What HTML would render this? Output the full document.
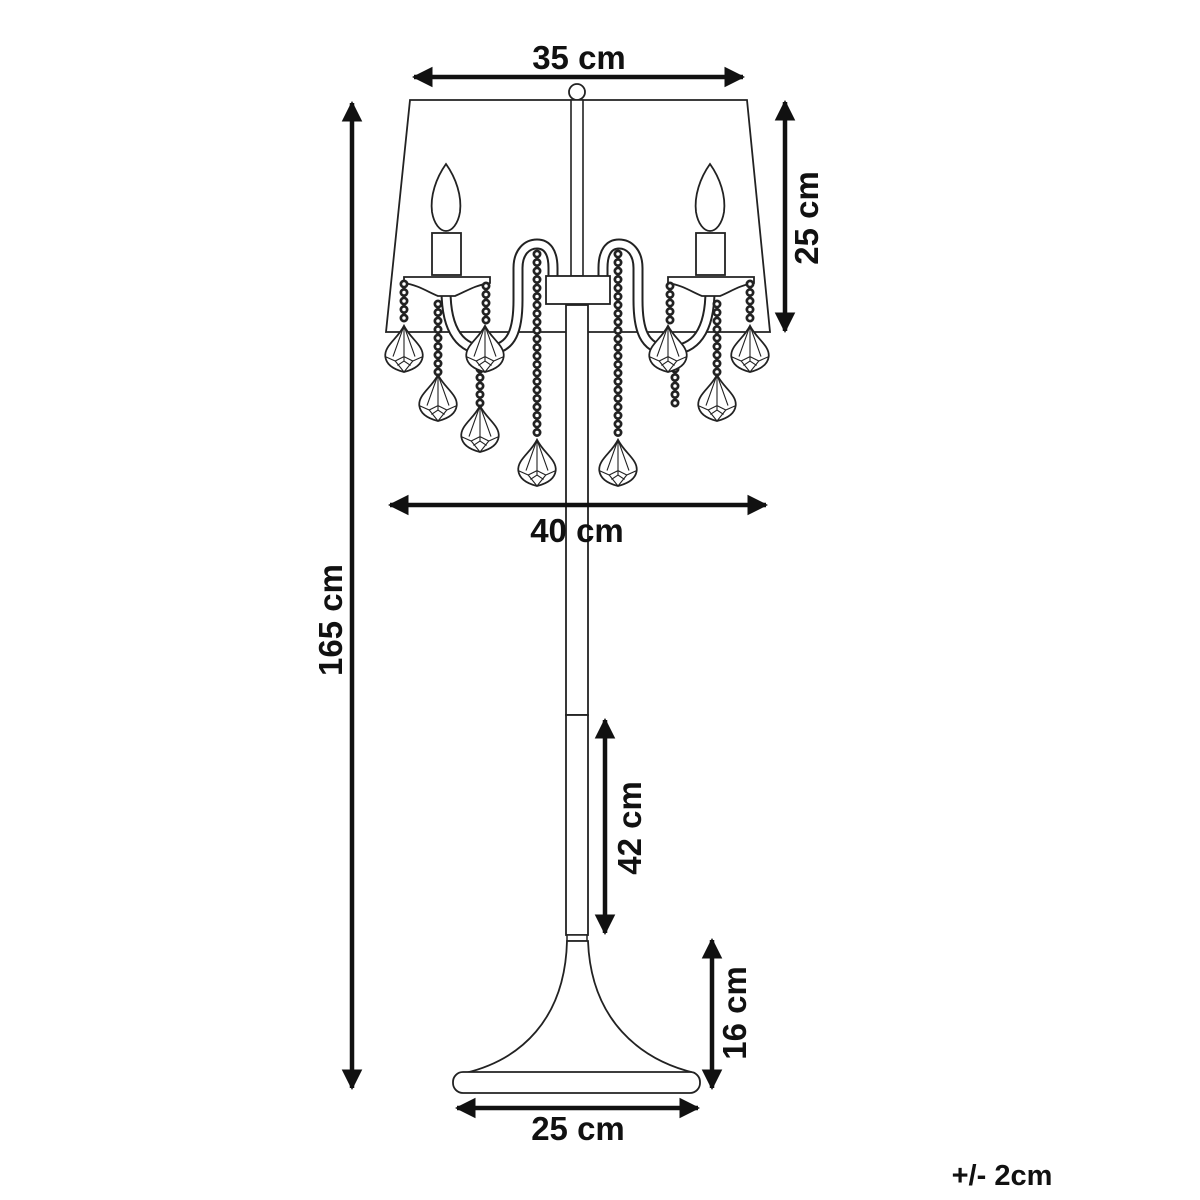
<!DOCTYPE html>
<html><head><meta charset="utf-8"><style>
html,body{margin:0;padding:0;background:#fff;}
svg{display:block}
text{font-family:"Liberation Sans",sans-serif;font-weight:bold;fill:#111}
</style></head><body>
<svg width="1200" height="1200" viewBox="0 0 1200 1200" xmlns="http://www.w3.org/2000/svg">
<defs>
<marker id="ah" viewBox="0 0 10 10" refX="9" refY="5" markerWidth="4.6" markerHeight="4.6" orient="auto-start-reverse">
<path d="M0,0 L10,5 L0,10 z" fill="#111"/></marker>
<g id="pend">
<g transform="scale(1.1)">
<path d="M0,-22 C-6,-10 -18,-4 -17,6 C-16,14 -8,18 0,20 C8,18 16,14 17,6 C18,-4 6,-10 0,-22 z" fill="#fff" stroke="#222" stroke-width="1.6"/>
<path d="M0,-22 L-10,6 M0,-22 L10,6 M0,-22 L0,10 M-17,6 L-8,10 L0,6 L8,10 L17,6 M-8,10 L0,20 L8,10 M-6,14 L0,10 L6,14" fill="none" stroke="#222" stroke-width="1"/>
</g>
</g>
</defs>

<path d="M410,100 L747,100 L770,332 L386,332 Z" fill="none" stroke="#222" stroke-width="1.8"/>
<circle cx="577" cy="92" r="8" fill="#fff" stroke="#222" stroke-width="1.8"/>
<rect x="571" y="100" width="12" height="176" fill="#fff" stroke="#222" stroke-width="1.6"/>

<g fill="none" stroke-linecap="round">
<path d="M446,290 C446,330 460,352 490,350 C512,348 518,330 518,300 L518,268 C518,252 527,244 537,244 C547,244 553,252 553,268 L553,276" stroke="#222" stroke-width="11"/>
<path d="M446,290 C446,330 460,352 490,350 C512,348 518,330 518,300 L518,268 C518,252 527,244 537,244 C547,244 553,252 553,268 L553,276" stroke="#fff" stroke-width="7"/>
<path d="M710,290 C710,330 696,352 666,350 C644,348 638,330 638,300 L638,268 C638,252 629,244 619,244 C609,244 603,252 603,268 L603,276" stroke="#222" stroke-width="11"/>
<path d="M710,290 C710,330 696,352 666,350 C644,348 638,330 638,300 L638,268 C638,252 629,244 619,244 C609,244 603,252 603,268 L603,276" stroke="#fff" stroke-width="7"/>
</g>
<rect x="546" y="276" width="64" height="28" fill="#fff" stroke="#222" stroke-width="1.8"/>
<rect x="566" y="305" width="22" height="410" fill="#fff" stroke="#222" stroke-width="1.8"/>
<rect x="566" y="715" width="22" height="220" fill="#fff" stroke="#222" stroke-width="1.8"/>
<rect x="567" y="935" width="20" height="6" fill="#fff" stroke="#222" stroke-width="1.5"/>
<path d="M567,941 C565,1020 520,1060 465,1073 L695,1073 C640,1060 591,1020 588,941 Z" fill="#fff" stroke="#222" stroke-width="1.8"/>
<rect x="453" y="1072" width="247" height="21" rx="10" fill="#fff" stroke="#222" stroke-width="1.8"/>

<g fill="#fff" stroke="#222" stroke-width="1.8">
<path d="M446,164 C436,178 430,196 432,212 C434,224 440,231 446,231 C452,231 458,224 460,212 C462,196 456,178 446,164 Z"/>
<rect x="432" y="233" width="29" height="42"/>
<path d="M404,277 L490,277 L490,283 C475,285 465,292 455,296 L438,296 C428,292 418,285 404,283 Z"/>
<path d="M710,164 C700,178 694,196 696,212 C698,224 704,231 710,231 C716,231 722,224 724,212 C726,196 720,178 710,164 Z"/>
<rect x="696" y="233" width="29" height="42"/>
<path d="M668,277 L754,277 L754,283 C740,285 730,292 720,296 L702,296 C692,292 682,285 668,283 Z"/>
</g>

<g stroke-linecap="round" fill="none">
<g stroke="#222" stroke-width="9" stroke-dasharray="0 8.5">
<line x1="404" y1="284" x2="404" y2="324"/>
<line x1="438" y1="304" x2="438" y2="374"/>
<line x1="486" y1="286" x2="486" y2="326"/>
<line x1="480" y1="352" x2="480" y2="404"/>
<line x1="537" y1="254" x2="537" y2="440"/>
<line x1="618" y1="254" x2="618" y2="440"/>
<line x1="670" y1="286" x2="670" y2="326"/>
<line x1="675" y1="352" x2="675" y2="404"/>
<line x1="717" y1="304" x2="717" y2="374"/>
<line x1="750" y1="284" x2="750" y2="324"/>
</g>
<g stroke="#fff" stroke-width="3.5" stroke-dasharray="0 8.5">
<line x1="404" y1="284" x2="404" y2="324"/>
<line x1="438" y1="304" x2="438" y2="374"/>
<line x1="486" y1="286" x2="486" y2="326"/>
<line x1="480" y1="352" x2="480" y2="404"/>
<line x1="537" y1="254" x2="537" y2="440"/>
<line x1="618" y1="254" x2="618" y2="440"/>
<line x1="670" y1="286" x2="670" y2="326"/>
<line x1="675" y1="352" x2="675" y2="404"/>
<line x1="717" y1="304" x2="717" y2="374"/>
<line x1="750" y1="284" x2="750" y2="324"/>
</g>
</g>
<use href="#pend" x="404" y="350"/>
<use href="#pend" x="438" y="399"/>
<use href="#pend" x="485" y="350"/>
<use href="#pend" x="480" y="430"/>
<use href="#pend" x="537" y="464"/>
<use href="#pend" x="618" y="464"/>
<use href="#pend" x="668" y="350"/>
<use href="#pend" x="717" y="399"/>
<use href="#pend" x="750" y="350"/>

<g stroke="#111" stroke-width="4.5" marker-start="url(#ah)" marker-end="url(#ah)">
<line x1="414" y1="77" x2="743" y2="77"/>
<line x1="785" y1="102" x2="785" y2="331"/>
<line x1="352" y1="103" x2="352" y2="1088"/>
<line x1="390" y1="505" x2="766" y2="505"/>
<line x1="605" y1="720" x2="605" y2="933"/>
<line x1="712" y1="940" x2="712" y2="1088"/>
<line x1="457" y1="1108" x2="698" y2="1108"/>
</g>

<g font-size="33">
<text x="579" y="69" text-anchor="middle">35 cm</text>
<text x="577" y="542" text-anchor="middle">40 cm</text>
<text x="578" y="1140" text-anchor="middle">25 cm</text>
<text transform="translate(818,218) rotate(-90)" text-anchor="middle">25 cm</text>
<text transform="translate(342,620) rotate(-90)" text-anchor="middle">165 cm</text>
<text transform="translate(641,828) rotate(-90)" text-anchor="middle">42 cm</text>
<text transform="translate(746,1013) rotate(-90)" text-anchor="middle">16 cm</text>
</g>
<text x="1002" y="1185" font-size="29" text-anchor="middle">+/- 2cm</text>
</svg>
</body></html>
